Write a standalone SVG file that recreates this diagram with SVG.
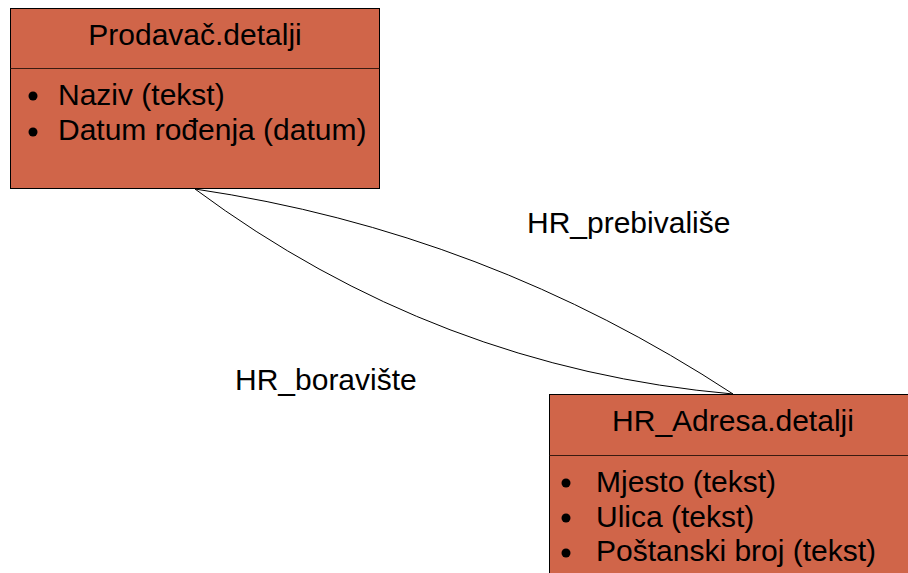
<svg xmlns="http://www.w3.org/2000/svg" width="908" height="573" viewBox="0 0 908 573">
<style>
.box{fill:#D06549;stroke:#000;stroke-width:1}
.div{stroke:#3a1a10;stroke-width:1}
.t{font-family:"Liberation Sans",Arial,sans-serif;font-size:30px;fill:#000}
.c{fill:none;stroke:#000;stroke-width:1}
</style>
<rect width="908" height="573" fill="#fff"/>
<g id="connectors">
<path class="c" d="M195,189 Q486,232 733,394"/>
<path class="c" d="M195,189 Q436,368 733,394"/>
<text class="t" x="527" y="233">HR_prebivališe</text>
<text class="t" x="235" y="390">HR_boravište</text>
</g>
<g id="prodavac">
<rect class="box" x="10.5" y="8.5" width="369" height="180"/>
<line class="div" x1="10.5" y1="68.5" x2="379.5" y2="68.5"/>
<text class="t" x="195" y="45" text-anchor="middle">Prodavač.detalji</text>
<circle cx="33" cy="96" r="4.5"/>
<text class="t" x="58" y="105">Naziv (tekst)</text>
<circle cx="33" cy="132" r="4.5"/>
<text class="t" x="58" y="140">Datum rođenja (datum)</text>
</g>
<g id="adresa">
<rect class="box" x="549.5" y="394.5" width="370" height="190"/>
<line class="div" x1="549.5" y1="455.5" x2="920" y2="455.5"/>
<text class="t" x="733" y="431" text-anchor="middle">HR_Adresa.detalji</text>
<circle cx="566" cy="483" r="4.5"/>
<text class="t" x="596" y="492">Mjesto (tekst)</text>
<circle cx="566" cy="518" r="4.5"/>
<text class="t" x="596" y="527">Ulica (tekst)</text>
<circle cx="566" cy="553" r="4.5"/>
<text class="t" x="596" y="561">Poštanski broj (tekst)</text>
</g>
</svg>
